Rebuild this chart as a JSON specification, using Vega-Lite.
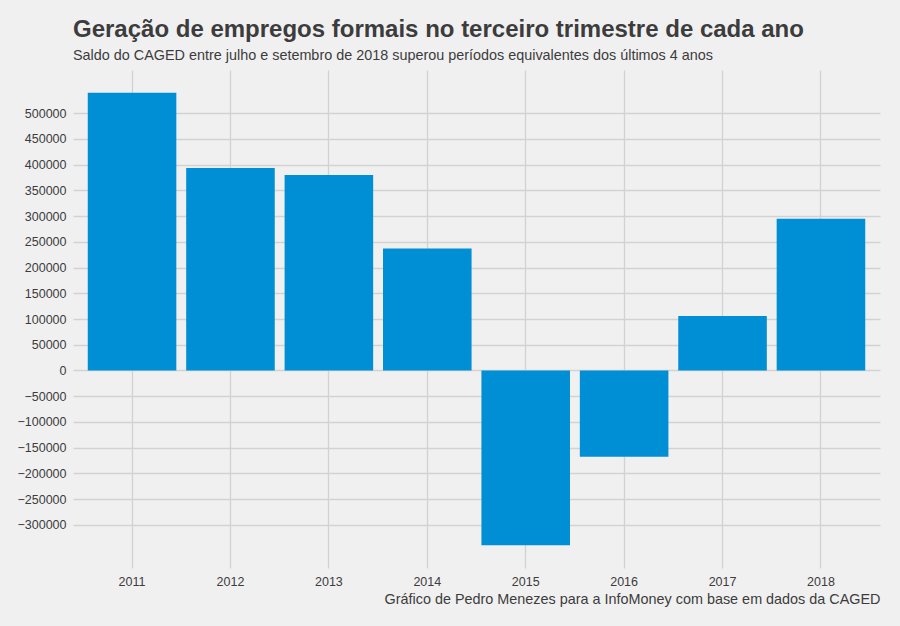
{
  "$schema": "https://vega.github.io/schema/vega-lite/v6.json",
  "width": 807,
  "height": 498,
  "autosize": {"type": "none"},
  "padding": {"left": 73, "top": 70, "right": 20, "bottom": 58},
  "background": "#f0f0f0",
  "title": {
    "text": "Geração de empregos formais no terceiro trimestre de cada ano",
    "subtitle": "Saldo do CAGED entre julho e setembro de 2018 superou períodos equivalentes dos últimos 4 anos",
    "anchor": "start",
    "frame": "group",
    "font": "Liberation Sans",
    "fontSize": 24,
    "fontWeight": "bold",
    "color": "#3c3c3c",
    "subtitleFont": "Liberation Sans",
    "subtitleFontSize": 14.4,
    "subtitleColor": "#3c3c3c",
    "subtitlePadding": 7,
    "offset": 8
  },
  "data": {
    "values": [
      {"ano": "2011", "saldo": 540087},
      {"ano": "2012", "saldo": 393768},
      {"ano": "2013", "saldo": 380179},
      {"ano": "2014", "saldo": 237006},
      {"ano": "2015", "saldo": -340050},
      {"ano": "2016", "saldo": -167959},
      {"ano": "2017", "saldo": 105749},
      {"ano": "2018", "saldo": 295086}
    ]
  },
  "mark": {"type": "bar", "color": "#008fd5"},
  "encoding": {
    "x": {
      "field": "ano",
      "type": "nominal",
      "scale": {"paddingInner": 0.1, "paddingOuter": 0.15},
      "axis": {
        "title": "Gráfico de Pedro Menezes para a InfoMoney com base em dados da CAGED",
        "titleAnchor": "end",
        "titleFont": "Liberation Sans",
        "titleFontSize": 14.4,
        "titleFontWeight": "normal",
        "titleColor": "#3c3c3c",
        "titlePadding": 5,
        "labelAngle": 0,
        "labelFont": "Liberation Sans",
        "labelFontSize": 12.5,
        "labelColor": "#3c3c3c",
        "labelPadding": 7,
        "domain": false,
        "ticks": false,
        "grid": true,
        "bandPosition": 0.5,
        "gridColor": "#d2d2d2",
        "gridWidth": 1.3
      }
    },
    "y": {
      "field": "saldo",
      "type": "quantitative",
      "scale": {"domain": [-384057, 584094], "nice": false, "zero": false},
      "axis": {
        "title": null,
        "values": [-300000, -250000, -200000, -150000, -100000, -50000, 0, 50000, 100000, 150000, 200000, 250000, 300000, 350000, 400000, 450000, 500000],
        "format": "d",
        "labelFont": "Liberation Sans",
        "labelFontSize": 12.5,
        "labelColor": "#3c3c3c",
        "labelPadding": 7,
        "domain": false,
        "ticks": false,
        "grid": true,
        "gridColor": "#d2d2d2",
        "gridWidth": 1.3
      }
    }
  },
  "config": {"view": {"stroke": null}}
}
